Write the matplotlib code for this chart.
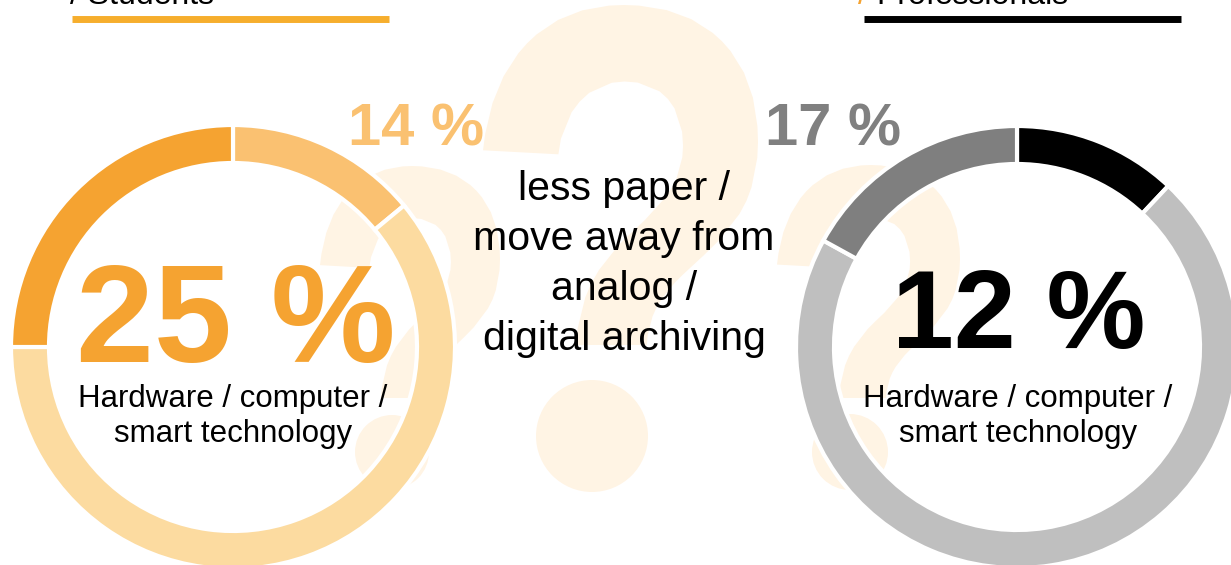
import matplotlib.pyplot as plt
from matplotlib.textpath import TextPath
from matplotlib.patches import Polygon, Circle
from matplotlib.font_manager import FontProperties
import numpy as np

plt.rcParams['font.family'] = ['Liberation Sans', 'DejaVu Sans']

# data
students_shares = [14, 61, 25]        # clockwise from 12 o'clock
students_colors = ['#FAC171', '#FCDBA0', '#F5A331']
professionals_shares = [12, 71, 17]
professionals_colors = ['#000000', '#BFBFBF', '#7F7F7F']
groups = ['Students', 'Professionals']
hero_values = [25, 12]
side_values = [14, 17]
category_label = 'Hardware / computer /\nsmart technology'
center_label = 'less paper /\nmove away from\nanalog /\ndigital archiving'

W, H = 1231, 565
cream = '#FFF4E4'

fig = plt.figure(figsize=(W / 100, H / 100), dpi=100)
ax = fig.add_axes([0, 0, 1, 1])


def question_mark(x0, x1, top, bottom, dot_x, dot_y, dot_r):
    # hook from the glyph outline, dot as a plain circle
    tp = TextPath((0, 0), '?', size=100,
                  prop=FontProperties(family='Liberation Sans', weight='bold'))
    polys = tp.to_polygons()
    hook = max(polys, key=lambda p: p[:, 1].max())
    hx0, hx1 = hook[:, 0].min(), hook[:, 0].max()
    hy0, hy1 = hook[:, 1].min(), hook[:, 1].max()
    xs = x0 + (hook[:, 0] - hx0) / (hx1 - hx0) * (x1 - x0)
    ys = (H - bottom) + (hook[:, 1] - hy0) / (hy1 - hy0) * (bottom - top)
    ax.add_patch(Polygon(np.column_stack([xs, ys]), fc=cream, ec='none', zorder=0))
    ax.add_patch(Circle((dot_x, H - dot_y), dot_r, fc=cream, ec='none', zorder=0))


# background question marks
question_mark(483, 758, 5, 345, 592, 436, 56)
question_mark(320, 500, 166, 398, 392, 452, 37)
question_mark(777, 960, 165, 398, 850, 452, 38)

# donuts
ring = dict(width=38, edgecolor='white', linewidth=3)
ax.pie(students_shares, colors=students_colors, startangle=90, counterclock=False,
       radius=222, center=(233, H - 347), wedgeprops=ring, frame=True)
ax.pie(professionals_shares, colors=professionals_colors, startangle=90, counterclock=False,
       radius=221, center=(1017, H - 347), wedgeprops=ring, frame=True)

# headers
ax.text(70, H - 4, '/ ' + groups[0], fontsize=23, ha='left', va='baseline', color='black')
ax.plot([72, 389], [H - 18.5] * 2, color='#F6AE2D', lw=5.0, solid_capstyle='butt')
ax.text(858, H - 4, '/', fontsize=23, ha='left', va='baseline', color='#F5A331')
ax.text(876, H - 4, groups[1], fontsize=23, ha='left', va='baseline', color='black')
ax.plot([864, 1181], [H - 18.5] * 2, color='black', lw=5.0, solid_capstyle='butt')

# big numbers
ax.text(236, H - 362, f'{hero_values[0]} %', fontsize=101, fontweight='bold',
        ha='center', va='baseline', color='#F5A331')
ax.text(1019, H - 348, f'{hero_values[1]} %', fontsize=80, fontweight='bold',
        ha='center', va='baseline', color='black')
ax.text(416, H - 145, f'{side_values[0]} %', fontsize=43, fontweight='bold',
        ha='center', va='baseline', color='#FAC171')
ax.text(833, H - 145, f'{side_values[1]} %', fontsize=43, fontweight='bold',
        ha='center', va='baseline', color='#808080')

# category labels
for cx in [233, 1018]:
    ax.text(cx, H - 407, category_label.split('\n')[0], fontsize=22.5,
            ha='center', va='baseline', color='black')
    ax.text(cx, H - 442, category_label.split('\n')[1], fontsize=22.5,
            ha='center', va='baseline', color='black')

# center text
for i, line in enumerate(center_label.split('\n')):
    ax.text(624, H - 200 - 50 * i, line, fontsize=29.5, ha='center',
            va='baseline', color='black')

ax.set_xlim(0, W)
ax.set_ylim(0, H)
ax.axis('off')
fig.savefig('out.png', dpi=100)
